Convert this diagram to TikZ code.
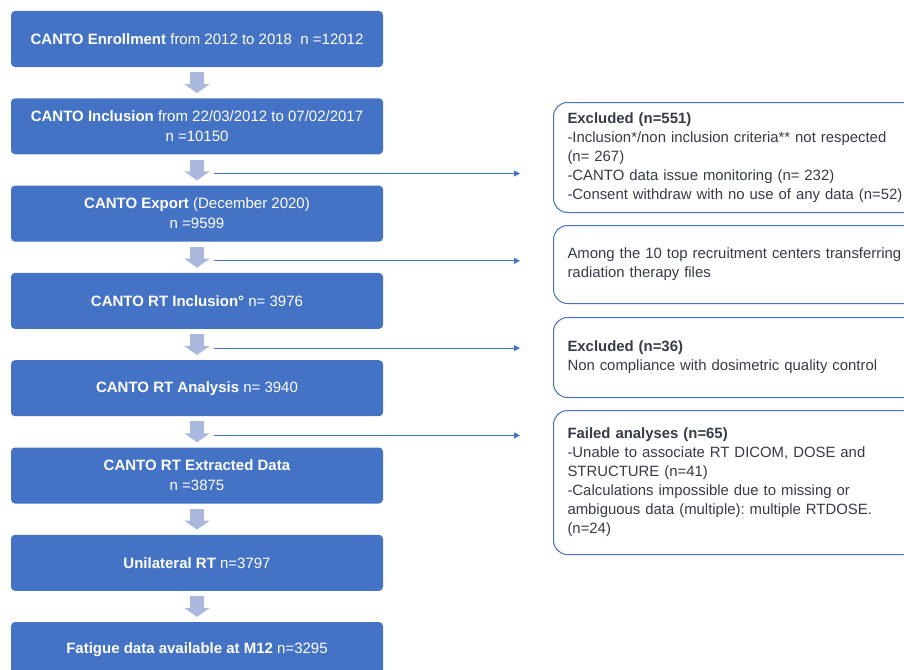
\documentclass[tikz,border=0pt]{standalone}
\usepackage{fontspec}
\setmainfont{Liberation Sans}
\usepackage{xcolor}
\usetikzlibrary{positioning,calc,arrows.meta}
\frenchspacing

\definecolor{boxblue}{HTML}{4472C4}
\definecolor{fatblue}{HTML}{A9B8DC}
\definecolor{notetext}{HTML}{353B47}

\begin{document}
\begin{tikzpicture}[x=1pt, y=-1pt,
    stage/.style={shape=rectangle, rounded corners=4pt, fill=boxblue, text=white,
      minimum width=372pt, minimum height=56pt, inner sep=0pt, align=center,
      font=\fontsize{15}{20}\selectfont},
    note/.style={shape=rectangle, rounded corners=14pt, draw=boxblue, line width=1pt,
      anchor=north west, text=notetext, text width=345pt, inner xsep=14pt, align=left,
      font=\fontsize{14.9}{19}\selectfont},
    blk/.style={draw=fatblue, line width=14pt, shorten <=5pt, shorten >=5pt,
      -{Triangle[width=25pt, length=9pt]}},
    side/.style={draw=boxblue, line width=0.8pt, -{Triangle[width=6pt, length=6pt]}}]
    \useasboundingbox (0,0) rectangle (904,669);

    \node[stage] (b1) at (197,39) {\textbf{CANTO Enrollment} from 2012 to 2018\ \ n =12012};
    \node[stage, below=30.9pt of b1] (b2) {\textbf{CANTO Inclusion} from 22/03/2012 to 07/02/2017\\ n =10150};
    \node[stage, below=30.9pt of b2] (b3) {\textbf{CANTO Export} (December 2020)\\ n =9599};
    \node[stage, below=30.9pt of b3] (b4) {\textbf{CANTO RT Inclusion°} n= 3976};
    \node[stage, below=30.9pt of b4] (b5) {\textbf{CANTO RT Analysis} n= 3940};
    \node[stage, below=30.9pt of b5] (b6) {\textbf{CANTO RT Extracted Data}\\ n =3875};
    \node[stage, below=30.9pt of b6] (b7) {\textbf{Unilateral RT} n=3797};
    \node[stage, below=30.9pt of b7] (b8) {\textbf{Fatigue data available at M12} n=3295};

    \foreach \i [count=\j from 2] in {1,...,7}
      \draw[blk] (b\i) -- (b\j);

    \node[note, minimum height=110pt] (xa) at (553,102) {\textbf{Excluded (n=551)}\\
      -Inclusion*/non inclusion criteria** not respected\\ (n= 267)\\
      -CANTO data issue monitoring (n= 232)\\
      -Consent withdraw with no use of any data (n=52)};
    \node[note, minimum height=78pt] (xb) at (553,225) {Among the 10 top recruitment centers transferring\\
      radiation therapy files};
    \node[note, minimum height=80pt] (xc) at (553,317) {\textbf{Excluded (n=36)}\\
      Non compliance with dosimetric quality control};
    \node[note, minimum height=144pt] (xd) at (553,410) {\textbf{Failed analyses (n=65)}\\
      -Unable to associate RT DICOM, DOSE and\\ STRUCTURE (n=41)\\
      -Calculations impossible due to missing or\\
      ambiguous data (multiple): multiple RTDOSE.\\ (n=24)};

    % side arrows
    \coordinate (s1) at ($(b2.south)+(17,19)$);
    \coordinate (s2) at ($(b3.south)+(17,19)$);
    \coordinate (s3) at ($(b4.south)+(17,19)$);
    \coordinate (s4) at ($(b5.south)+(17,19)$);
    \draw[side] (s1) -- ($(s1 -| xa.west)+(-33,0)$);
    \draw[side] (s2) -- ($(s2 -| xb.west)+(-33,0)$);
    \draw[side] (s3) -- ($(s3 -| xc.west)+(-33,0)$);
    \draw[side] (s4) -- ($(s4 -| xd.west)+(-33,0)$);
\end{tikzpicture}
\end{document}
